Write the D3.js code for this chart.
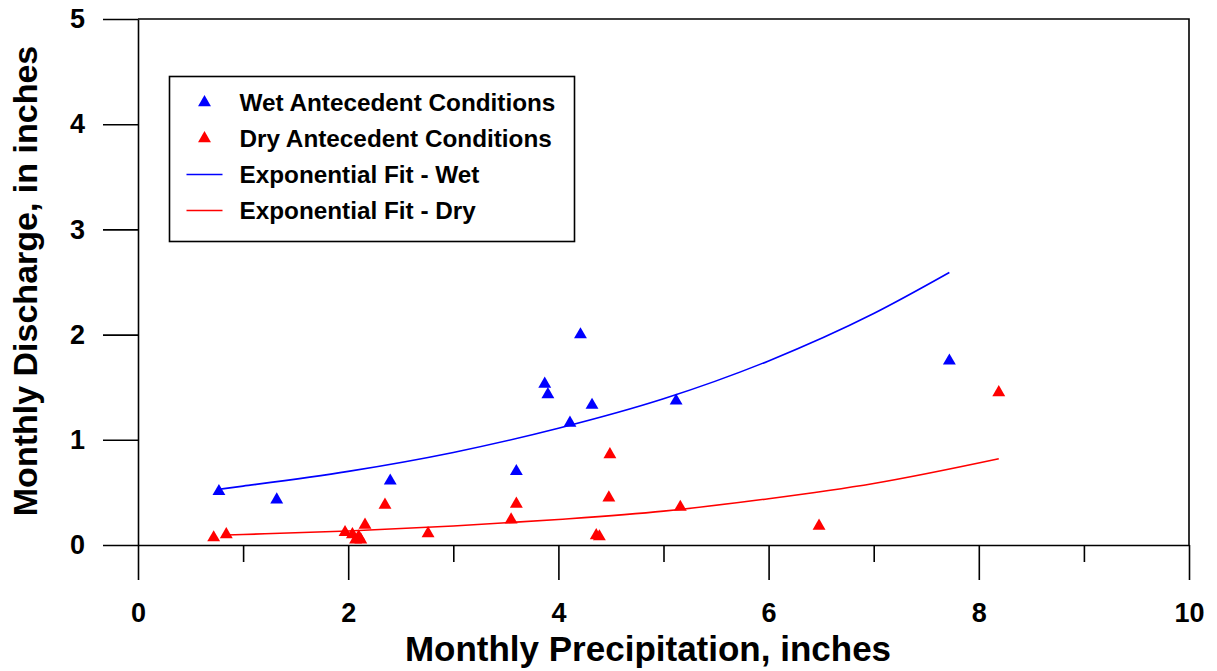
<!DOCTYPE html>
<html>
<head>
<meta charset="utf-8">
<script src="https://cdn.jsdelivr.net/npm/d3@7"></script>
<style>
  body { margin: 0; background: #fff; }
  svg { display: block; font-family: "Liberation Sans", Arial, Helvetica, sans-serif; font-weight: bold; }
</style>
</head>
<body>
<svg width="1217" height="671"></svg>
<script>
// Wet antecedent conditions (precip, discharge in inches)
const wetPrecip    = [0.77, 1.32, 2.40, 3.60, 3.87, 3.90, 4.11, 4.21, 4.32, 5.12, 7.72];
const wetDischarge = [0.51, 0.43, 0.61, 0.70, 1.53, 1.43, 1.16, 2.00, 1.33, 1.37, 1.75];

// Dry antecedent conditions
const dryPrecip    = [0.72, 0.84, 1.97, 2.04, 2.07, 2.10, 2.12, 2.16, 2.35, 2.76, 3.55, 3.60, 4.36, 4.39, 4.48, 4.49, 5.16, 6.48, 8.19];
const dryDischarge = [0.07, 0.10, 0.12, 0.10, 0.05, 0.08, 0.05, 0.19, 0.38, 0.11, 0.24, 0.39, 0.09, 0.08, 0.45, 0.86, 0.36, 0.18, 1.45];

// exponential fit curves
const wetFitX = [0.77, 1, 2, 3, 4, 5, 6, 7, 7.72];
const wetFitY = [0.53, 0.56, 0.70, 0.88, 1.11, 1.39, 1.75, 2.20, 2.59];
const dryFitX = [0.84, 1, 2, 3, 4, 5, 6, 7, 8.19];
const dryFitY = [0.095, 0.10, 0.133, 0.18, 0.243, 0.322, 0.44, 0.585, 0.82];

const xMajorTicks = [0, 2, 4, 6, 8, 10];
const xMinorTicks = [1, 3, 5, 7, 9];
const yTicks = [0, 1, 2, 3, 4, 5];

const legendItems = [
  { label: "Wet Antecedent Conditions", color: "#0000ff", type: "marker" },
  { label: "Dry Antecedent Conditions", color: "#ff0000", type: "marker" },
  { label: "Exponential Fit - Wet", color: "#0000ff", type: "line" },
  { label: "Exponential Fit - Dry", color: "#ff0000", type: "line" }
];

const svg = d3.select("svg"),
    margin = { top: 19, right: 28, bottom: 126, left: 138 },
    width = +svg.attr("width") - margin.left - margin.right,
    height = +svg.attr("height") - margin.top - margin.bottom,
    g = svg.append("g").attr("transform", `translate(${margin.left},${margin.top})`);

const x = d3.scaleLinear().domain([0, 10]).range([0, width]),
    y = d3.scaleLinear().domain([0, 5]).range([height, 0]);

// minor x ticks
g.append("g")
    .attr("transform", `translate(0,${height})`)
    .call(d3.axisBottom(x).tickValues(xMinorTicks).tickSize(17).tickFormat(""))
    .call(a => a.select(".domain").remove());

// major x ticks + labels
const xAxis = g.append("g")
    .attr("transform", `translate(0,${height})`)
    .call(d3.axisBottom(x).tickValues(xMajorTicks).tickSize(35).tickSizeOuter(0).tickPadding(23).tickFormat(d3.format("d")));

const yAxis = g.append("g")
    .call(d3.axisLeft(y).tickValues(yTicks).tickSize(35).tickSizeOuter(0).tickPadding(18).tickFormat(d3.format("d")));

xAxis.selectAll("text").style("font-size", "27px");
yAxis.selectAll("text").style("font-size", "27px");
svg.selectAll(".tick line, .domain").attr("stroke", "#000").attr("stroke-width", 1.6);
svg.selectAll(".tick text").attr("fill", "#000").style("font-family", "inherit").style("font-weight", "bold");

// frame top and right
g.append("path")
    .attr("d", `M0,0H${width}V${height}`)
    .attr("fill", "none")
    .attr("stroke", "#000")
    .attr("stroke-width", 1.6);

// axis titles
svg.append("text")
    .attr("x", 648)
    .attr("y", 661)
    .attr("text-anchor", "middle")
    .style("font-size", "35px")
    .text("Monthly Precipitation, inches");

svg.append("text")
    .attr("transform", "translate(37,281) rotate(-90)")
    .attr("text-anchor", "middle")
    .style("font-size", "34px")
    .text("Monthly Discharge, in inches");

// fit lines
const line = d3.line().x(d => x(d[0])).y(d => y(d[1])).curve(d3.curveMonotoneX);

g.append("path")
    .datum(d3.zip(wetFitX, wetFitY))
    .attr("fill", "none")
    .attr("stroke", "#0000ff")
    .attr("stroke-width", 1.6)
    .attr("d", line);

g.append("path")
    .datum(d3.zip(dryFitX, dryFitY))
    .attr("fill", "none")
    .attr("stroke", "#ff0000")
    .attr("stroke-width", 1.6)
    .attr("d", line);

// markers
const tri = d3.symbol().type(d3.symbolTriangle).size(72);

g.selectAll(".dry")
    .data(d3.zip(dryPrecip, dryDischarge))
    .enter().append("path")
    .attr("class", "dry")
    .attr("d", tri)
    .attr("transform", d => `translate(${x(d[0])},${y(d[1])})`)
    .attr("fill", "#ff0000");

g.selectAll(".wet")
    .data(d3.zip(wetPrecip, wetDischarge))
    .enter().append("path")
    .attr("class", "wet")
    .attr("d", tri)
    .attr("transform", d => `translate(${x(d[0])},${y(d[1])})`)
    .attr("fill", "#0000ff");

// legend
const legend = svg.append("g").attr("transform", "translate(169.5,76.5)");

legend.append("rect")
    .attr("width", 405)
    .attr("height", 165)
    .attr("fill", "#fff")
    .attr("stroke", "#000")
    .attr("stroke-width", 1.6);

const item = legend.selectAll(".legend-item")
    .data(legendItems)
    .enter().append("g")
    .attr("class", "legend-item")
    .attr("transform", (d, i) => `translate(0,${26 + i * 36})`);

item.filter(d => d.type === "marker").append("path")
    .attr("d", tri)
    .attr("transform", "translate(35,0)")
    .attr("fill", d => d.color);

item.filter(d => d.type === "line").append("line")
    .attr("x1", 17).attr("x2", 53)
    .attr("stroke", d => d.color)
    .attr("stroke-width", 1.6);

item.append("text")
    .attr("x", 70)
    .attr("y", 8.5)
    .style("font-size", "24.3px")
    .text(d => d.label);
</script>
</body>
</html>
